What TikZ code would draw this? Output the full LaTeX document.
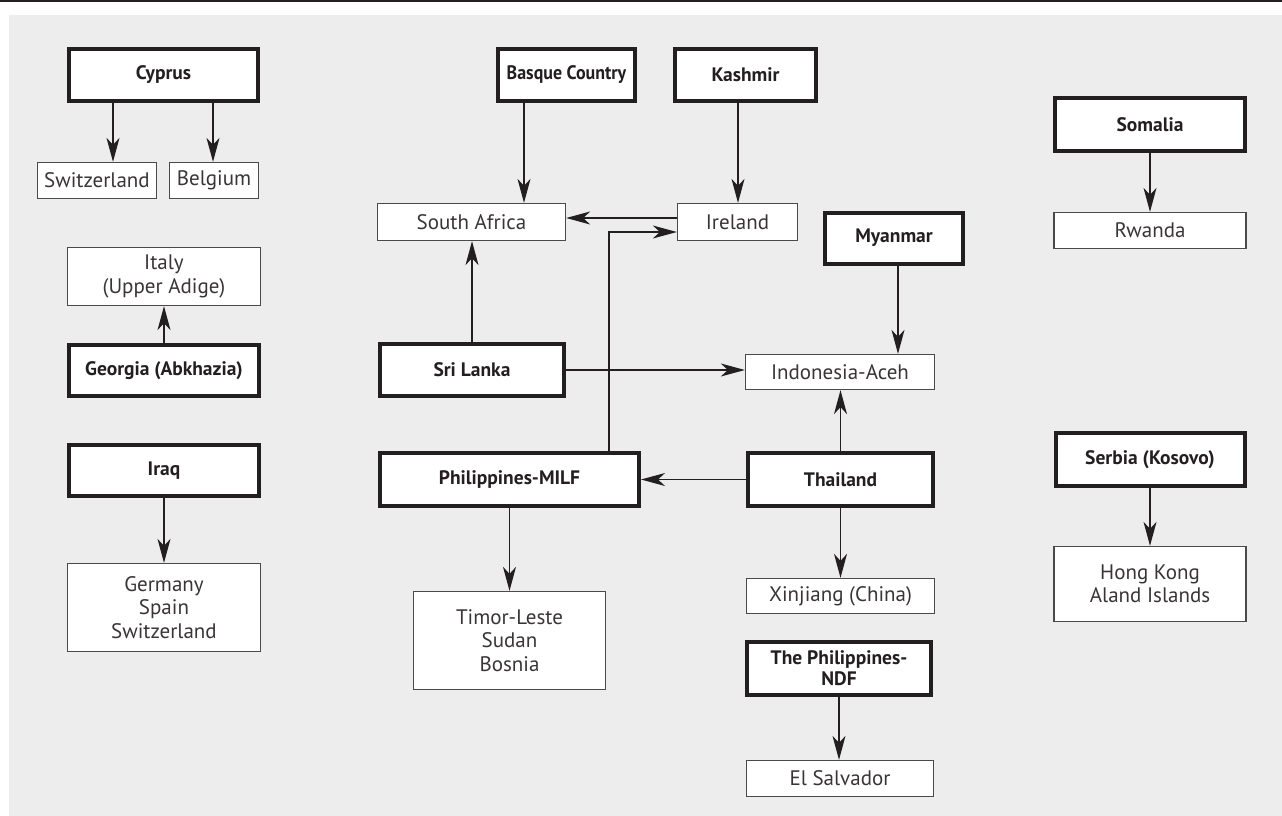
\documentclass[tikz,border=0pt]{standalone}
\usepackage{fontspec}
\setmainfont{PT Sans}
\usetikzlibrary{arrows.meta}
\definecolor{bggray}{HTML}{EDEDED}
\definecolor{inkc}{HTML}{231F20}
\definecolor{thinc}{HTML}{4A4A4A}
\tikzset{
  boldbox/.style={draw=inkc, line width=4pt, fill=white, inner sep=0pt, align=center,
    text=inkc, font=\fontsize{19.5}{21}\selectfont\bfseries},
  thinbox/.style={draw=thinc, line width=1.3pt, fill=white, inner sep=0pt, align=center,
    text=inkc!90, font=\fontsize{21}{23.5}\selectfont},
  arr/.style={draw=inkc, line width=1.3pt, -{Stealth[length=24pt, width=13pt, inset=7pt]}},
}
\begin{document}
\begin{tikzpicture}[x=1pt, y=-1pt]
\useasboundingbox (0,0) rectangle (1282,816);
\fill[bggray] (9,15) rectangle (1282,816);
\fill[inkc] (0,0) rectangle (1282,2.5);

% left column
\node[boldbox, minimum width=189pt, minimum height=52pt] (cyprus) at (163.5,75) {Cyprus};
\node[thinbox, minimum width=119pt, minimum height=36pt] (switz) at (97,180.5) {Switzerland};
\node[thinbox, minimum width=89pt, minimum height=36pt] (belgium) at (214,180.5) {Belgium};
\node[thinbox, minimum width=193pt, minimum height=58pt] (italy) at (164,276.5) {Italy\\(Upper Adige)};
\node[boldbox, minimum width=190pt, minimum height=51pt] (georgia) at (164,370.5) {Georgia (Abkhazia)};
\node[boldbox, minimum width=190pt, minimum height=51pt] (iraq) at (164,470.5) {Iraq};
\node[thinbox, minimum width=193pt, minimum height=88pt] (germany) at (164,607.5) {Germany\\Spain\\Switzerland};

% middle
\node[boldbox, minimum width=137pt, minimum height=52pt] (basque) at (566.5,75) {\scalebox{0.92}[1]{Basque Country}};
\node[boldbox, minimum width=141pt, minimum height=52pt] (kashmir) at (745.5,75) {Kashmir};
\node[thinbox, minimum width=188pt, minimum height=37pt] (safrica) at (471.5,222) {South Africa};
\node[thinbox, minimum width=120pt, minimum height=37pt] (ireland) at (737.5,222) {Ireland};
\node[boldbox, minimum width=138pt, minimum height=51pt] (myanmar) at (894,238) {Myanmar};
\node[thinbox, minimum width=189pt, minimum height=35pt] (indonesia) at (840,372) {Indonesia-Aceh};
\node[boldbox, minimum width=184pt, minimum height=52pt] (srilanka) at (472,370) {Sri Lanka};
\node[boldbox, minimum width=259pt, minimum height=53pt] (milf) at (509.5,479.5) {Philippines-MILF};
\node[boldbox, minimum width=185pt, minimum height=53pt] (thailand) at (840.5,479.5) {Thailand};
\node[thinbox, minimum width=192pt, minimum height=98pt] (timor) at (509.5,640.5) {Timor-Leste\\Sudan\\Bosnia};
\node[thinbox, minimum width=188pt, minimum height=35pt] (xinjiang) at (840.5,596) {Xinjiang (China)};
\node[boldbox, minimum width=184pt, minimum height=53pt] (ndf) at (839,668.5) {The Philippines-\\NDF};
\node[thinbox, minimum width=187pt, minimum height=36pt] (elsalv) at (840,778.5) {El Salvador};

% right column
\node[boldbox, minimum width=190pt, minimum height=53pt] (somalia) at (1150,124.5) {Somalia};
\node[thinbox, minimum width=192pt, minimum height=36pt] (rwanda) at (1150,230.5) {Rwanda};
\node[boldbox, minimum width=189pt, minimum height=53pt] (serbia) at (1150,459.5) {Serbia (Kosovo)};
\node[thinbox, minimum width=192pt, minimum height=75pt] (hongkong) at (1150,584) {Hong Kong\\Aland Islands};

% connectors
\draw[arr] ([xshift=-50.5pt]cyprus.south) -- ([xshift=16pt]switz.north);
\draw[arr] ([xshift=49.5pt]cyprus.south) -- ([xshift=-1pt]belgium.north);
\draw[arr] (georgia.north) -- (italy.south);
\draw[arr] (iraq.south) -- (germany.north);

\draw[arr] ([xshift=-42.5pt]basque.south) -- ([xshift=52.5pt]safrica.north);
\draw[arr] ([xshift=-7.5pt]kashmir.south) -- ([xshift=0.5pt]ireland.north);
\draw[arr] ([yshift=4pt]ireland.west) -- ([yshift=4pt]safrica.east);
\draw[arr] ([xshift=99.5pt]milf.north) |- ([yshift=-10pt]ireland.west);
\draw[arr] (srilanka.north) -- (srilanka.north |- safrica.south);
\draw[arr] (srilanka.east) -- (srilanka.east -| indonesia.west);
\draw[arr] ([xshift=4pt]myanmar.south) -- ([xshift=58pt]indonesia.north);
\draw[arr] (thailand.north) -- (thailand.north |- indonesia.south);
\draw[arr] (thailand.west) -- (milf.east);
\draw[arr] (thailand.south) -- (thailand.south |- xinjiang.north);
\draw[arr] (milf.south) -- (timor.north);
\draw[arr] (ndf.south) -- (ndf.south |- elsalv.north);

\draw[arr] (somalia.south) -- (rwanda.north);
\draw[arr] (serbia.south) -- (hongkong.north);
\end{tikzpicture}
\end{document}
